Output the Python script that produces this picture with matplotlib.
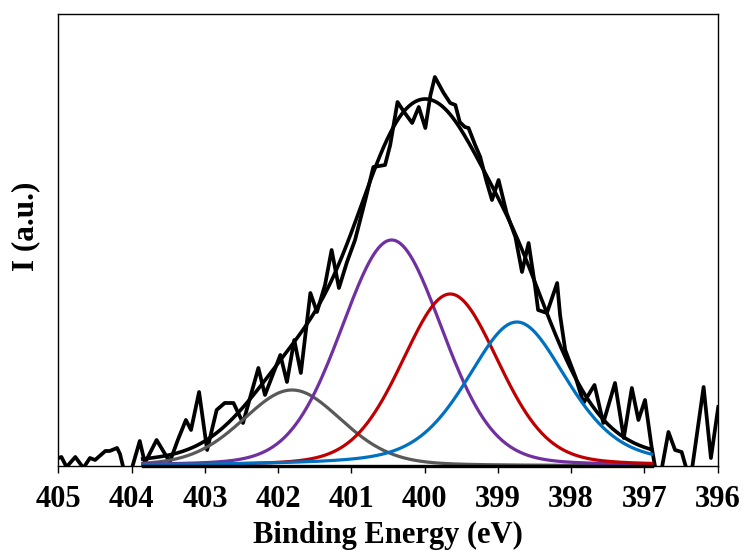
import numpy as np
import matplotlib.pyplot as plt

# raw N 1s spectrum (binding energy in eV, intensity in a.u.)
be_raw = [405.00, 404.96, 404.89, 404.77, 404.66, 404.57, 404.50, 404.36,
          404.30, 404.20, 404.16, 404.11, 404.00, 403.89, 403.82, 403.66,
          403.48, 403.37, 403.26, 403.19, 403.08, 402.97, 402.84, 402.73,
          402.61, 402.48, 402.27, 402.18, 401.97, 401.88, 401.78, 401.69,
          401.56, 401.47, 401.36, 401.27, 401.17, 401.06, 400.95, 400.81,
          400.70, 400.54, 400.47, 400.37, 400.28, 400.17, 400.08, 399.99,
          399.92, 399.86, 399.74, 399.65, 399.58, 399.52, 399.45, 399.40,
          399.31, 399.24, 399.16, 399.08, 398.99, 398.88, 398.76, 398.67,
          398.58, 398.49, 398.45, 398.33, 398.19, 398.15, 398.08, 397.94,
          397.83, 397.68, 397.56, 397.40, 397.28, 397.17, 397.08, 396.99,
          396.90, 396.85, 396.76, 396.67, 396.58, 396.49, 396.42, 396.35,
          396.19, 396.09, 395.99]
i_raw = [8, 9, -1, 9, -2, 8, 6, 15,
         15, 18, 12, -3, -3, 25, 3, 26,
         4, 26, 46, 36, 74, 16, 56, 63,
         63, 43, 98, 71, 111, 84, 126, 93,
         173, 154, 181, 216, 178, 204, 226, 266,
         299, 301, 321, 364, 354, 343, 359, 338,
         371, 389, 373, 363, 361, 344, 339, 338,
         321, 309, 286, 266, 286, 253, 229, 194,
         223, 179, 156, 153, 183, 151, 116, 89,
         63, 81, 43, 83, 28, 78, 46, 66,
         19, -2, -2, 34, 16, 14, -4, -4,
         79, 8, 59]

# fitted components: centre (eV), height, FWHM (eV), lorentzian fraction
peak_pos = [401.81, 400.45, 399.65, 398.74]
peak_height = [76, 226, 172, 144]
peak_fwhm = [1.60, 1.63, 1.56, 1.62]
peak_mix = [0.2, 0.15, 0.2, 0.4]
peak_color = ['#595959', '#7030A0', '#C00000', '#0070C0']
fit_range = (403.85, 396.9)


def gl(x, c, h, w, m):
    d = 4 * (x - c) ** 2 / w ** 2
    return h * ((1 - m) * np.exp(-np.log(2) * d) + m / (1 + d))


plt.rcParams['font.family'] = 'Liberation Serif'
plt.rcParams['font.weight'] = 'bold'

fig = plt.figure(figsize=(7.44, 5.56), dpi=100)
ax = fig.add_axes([0.0786, 0.1619, 0.8858, 0.8129])

x = np.linspace(fit_range[0], fit_range[1], 400)
comps = [gl(x, c, h, w, m) for c, h, w, m in
         zip(peak_pos, peak_height, peak_fwhm, peak_mix)]

ax.plot(be_raw, i_raw, color='k', lw=2.7, solid_joinstyle='round')
for y, col in zip(comps, peak_color):
    ax.plot(x, y, color=col, lw=2.3)
ax.plot(x, np.sum(comps, axis=0), color='k', lw=2.6)
ax.plot(fit_range, [0, 0], color='k', lw=2.4, clip_on=False)

ax.set_xlim(405, 396)
ax.set_ylim(0, 452)
ax.set_xticks(np.arange(405, 395, -1))
ax.set_yticks([])
ax.tick_params(axis='x', direction='out', length=5, width=1,
               labelsize=22, pad=9)
for s in ax.spines.values():
    s.set_linewidth(1.0)

ax.set_xlabel('Binding Energy (eV)', fontsize=22, fontweight='bold',
              labelpad=5)
ax.set_ylabel('I (a.u.)', fontsize=22.5, fontweight='bold')
ax.yaxis.set_label_coords(-0.028, 0.53)

plt.savefig('out.png', dpi=100)
